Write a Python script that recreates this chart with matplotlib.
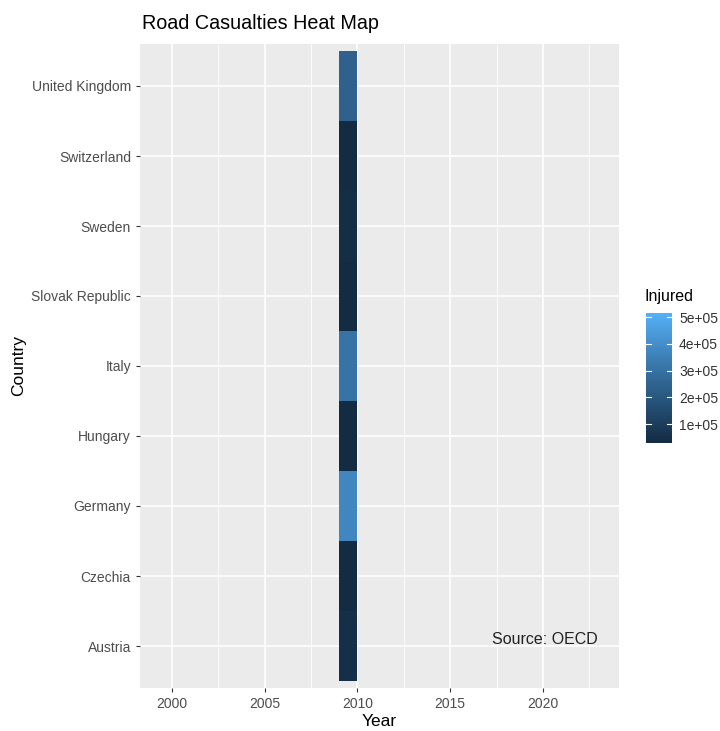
import numpy as np
import matplotlib
matplotlib.use("Agg")
import matplotlib.pyplot as plt
from matplotlib.colors import LinearSegmentedColormap, Normalize

plt.rcParams['font.family'] = ['Liberation Sans', 'DejaVu Sans']

countries = ["Austria", "Czechia", "Germany", "Hungary", "Italy",
             "Slovak Republic", "Sweden", "Switzerland", "United Kingdom"]
year = 2010
injured = [45000, 30000, 371000, 30000, 302000, 30000, 40000, 32000, 240000]
scale_min, scale_max = 30000, 515000
cbar_ticks = [100000, 200000, 300000, 400000, 500000]
cbar_labels = ["1e+05", "2e+05", "3e+05", "4e+05", "5e+05"]
year_ticks = [2000, 2005, 2010, 2015, 2020]

# approximation of ggplot's Lab gradient #132B43 -> #56B1F7
cmap = LinearSegmentedColormap.from_list(
    "gg", [(0, "#132B43"), (0.25, "#234B6E"), (0.5, "#336A98"),
           (0.75, "#448DC8"), (1, "#56B1F7")])
norm = Normalize(scale_min, scale_max)

fig = plt.figure(figsize=(7.2, 7.31), dpi=100)
W, H = 720, 731
ax = fig.add_axes([140 / W, 1 - 688 / H, 479 / W, 644 / H])
ax.set_facecolor("#EBEBEB")

# grid
for m in np.arange(1997.5, 2025, 5):
    ax.axvline(m, color="white", lw=0.6, zorder=0)
for t in year_ticks:
    ax.axvline(t, color="white", lw=1.2, zorder=0)
for i in range(len(countries)):
    ax.axhline(i, color="white", lw=1.2, zorder=0)

# tiles (geom_tile, width 1 year)
for i, (c, v) in enumerate(zip(countries, injured)):
    ax.add_patch(plt.Rectangle((year - 1, i - 0.5), 1, 1,
                               facecolor=cmap(norm(v)), edgecolor="none", zorder=2))

ax.set_xlim(1998.29, 2024.09)
ax.set_ylim(-0.6, len(countries) - 0.4)
ax.set_xticks(year_ticks)
ax.set_xticklabels([str(t) for t in year_ticks])
ax.set_yticks(range(len(countries)))
ax.set_yticklabels(countries)
ax.tick_params(axis="both", colors="#333333", labelcolor="#4D4D4D",
               labelsize=10, length=3, width=0.8)
for s in ax.spines.values():
    s.set_visible(False)

ax.set_xlabel("Year", fontsize=12.5, color="black", labelpad=2)
ax.set_ylabel("Country", fontsize=12.5, color="black", labelpad=4)
ax.set_title("Road Casualties Heat Map", fontsize=14.2, loc="left",
             x=0.004, pad=11)

ax.text(2020.1, 0.1, "Source: OECD", fontsize=11.5, color="#222222",
        ha="center", va="center")

# colour bar
cax = fig.add_axes([646 / W, 1 - 443 / H, 26 / W, 130 / H])
grad = np.linspace(scale_min, scale_max, 256).reshape(-1, 1)
cax.imshow(grad, aspect="auto", cmap=cmap, norm=norm, origin="lower",
           extent=[0, 1, scale_min, scale_max])
for t in cbar_ticks:
    cax.plot([0, 0.2], [t, t], color="white", lw=0.8)
    cax.plot([0.8, 1], [t, t], color="white", lw=0.8)
cax.set_xlim(0, 1)
cax.set_ylim(scale_min, scale_max)
cax.set_xticks([])
cax.yaxis.tick_right()
cax.set_yticks(cbar_ticks)
cax.set_yticklabels(cbar_labels)
cax.tick_params(axis="y", length=0, labelsize=10, labelcolor="#333333", pad=5)
for s in cax.spines.values():
    s.set_visible(False)
fig.text(645 / W, 1 - 296 / H, "Injured", fontsize=11.5, va="center", ha="left")

fig.savefig("out.png", dpi=100)
